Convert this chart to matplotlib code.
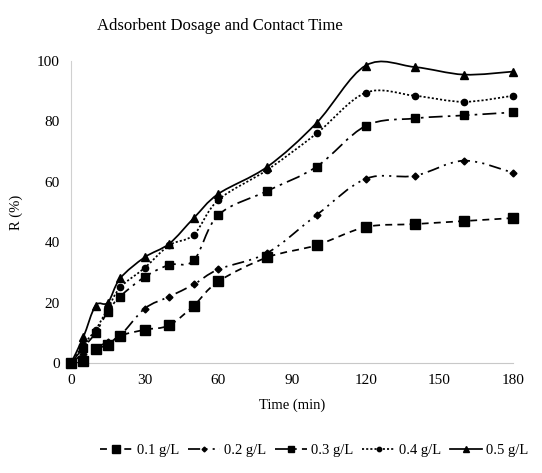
import numpy as np
import matplotlib
matplotlib.use("Agg")
import matplotlib.pyplot as plt
from matplotlib.path import Path
from matplotlib.patches import PathPatch
from matplotlib.lines import Line2D

plt.rcParams["font.family"] = ["Liberation Serif", "DejaVu Serif"]

time = [0, 5, 10, 15, 20, 30, 40, 50, 60, 80, 100, 120, 140, 160, 180]
r_01 = [0, 0.5, 4.5, 6, 9, 11, 12.5, 19, 27, 35, 39, 45, 46, 47, 48]
r_02 = [0, 3, 5, 7, 9, 18, 22, 26, 31, 36.5, 49, 61, 62, 67, 63]
r_03 = [0, 5, 10, 17, 22, 28.5, 32.5, 34, 49, 57, 65, 78.5, 81, 82, 83]
r_04 = [0, 6, 11, 18, 25, 31.5, 39, 42.5, 54, 64, 76, 89.5, 88.5, 86.5, 88.5]
r_05 = [0, 8.5, 19, 20, 28, 35, 39.5, 48, 56, 65, 79.5, 98.5, 98, 95.5, 96.5]
labels = ["0.1 g/L", "0.2 g/L", "0.3 g/L", "0.4 g/L", "0.5 g/L"]
series = [r_01, r_02, r_03, r_04, r_05]

styles = [
    dict(ls=(0, (4, 3)), marker="s", ms=7.5),
    dict(ls=(0, (7, 3, 1.2, 3, 1.2, 3)), marker="D", ms=3.5),
    dict(ls=(0, (8, 3, 1.5, 3)), marker="s", ms=5.5),
    dict(ls=(0, (1.2, 1.2)), marker="o", ms=4.5),
    dict(ls="-", marker="^", ms=5.5),
]

def smooth_path(x, y):
    # excel-like smoothed line: cubic bezier through the points
    p = np.column_stack([x, y]).astype(float)
    n = len(p)
    verts = [p[0]]
    codes = [Path.MOVETO]
    for i in range(n - 1):
        p_prev = p[i - 1] if i > 0 else p[i]
        p_next2 = p[i + 2] if i + 2 < n else p[i + 1]
        c1 = p[i] + (p[i + 1] - p_prev) / 6.0
        c2 = p[i + 1] - (p_next2 - p[i]) / 6.0
        verts += [c1, c2, p[i + 1]]
        codes += [Path.CURVE4] * 3
    return Path(verts, codes)

fig = plt.figure(figsize=(5.42, 4.73), dpi=100)
ax = fig.add_axes([0.131, 0.2326, 0.8155, 0.6384])

handles = []
for vals, st, lab in zip(series, styles, labels):
    patch = PathPatch(smooth_path(time, vals), facecolor="none", edgecolor="black",
                      lw=1.25, linestyle=st["ls"], clip_on=False)
    ax.add_patch(patch)
    ax.plot(time, vals, ls="none", marker=st["marker"], ms=st["ms"], color="black",
            clip_on=False, zorder=3)
    handles.append(Line2D([], [], color="black", lw=1.25, ls=st["ls"],
                          marker=st["marker"], ms=st["ms"] * 0.7))

ax.set_xlim(0, 180)
ax.set_ylim(0, 100)
ax.set_xticks([0, 30, 60, 90, 120, 150, 180])
ax.set_yticks([0, 20, 40, 60, 80, 100])
ax.tick_params(length=0, labelsize=11, pad=8)
for s in ["top", "right"]:
    ax.spines[s].set_visible(False)
ax.spines["left"].set_color("#d0d0d0")
ax.spines["bottom"].set_color("#c8c8c8")

ax.set_xlabel("Time (min)", fontsize=10.5, labelpad=8)
ax.set_ylabel("R (%)", fontsize=10.5, labelpad=10)
fig.text(0.179, 0.945, "Adsorbent Dosage and Contact Time", fontsize=12,
         ha="left", va="center")

fig.legend(handles, labels, loc="center", bbox_to_anchor=(0.58, 0.048), ncol=5,
           frameon=False, fontsize=10.5, handlelength=2.2, handletextpad=0.3,
           columnspacing=0.6, numpoints=1)

fig.savefig("out.png", dpi=100)
